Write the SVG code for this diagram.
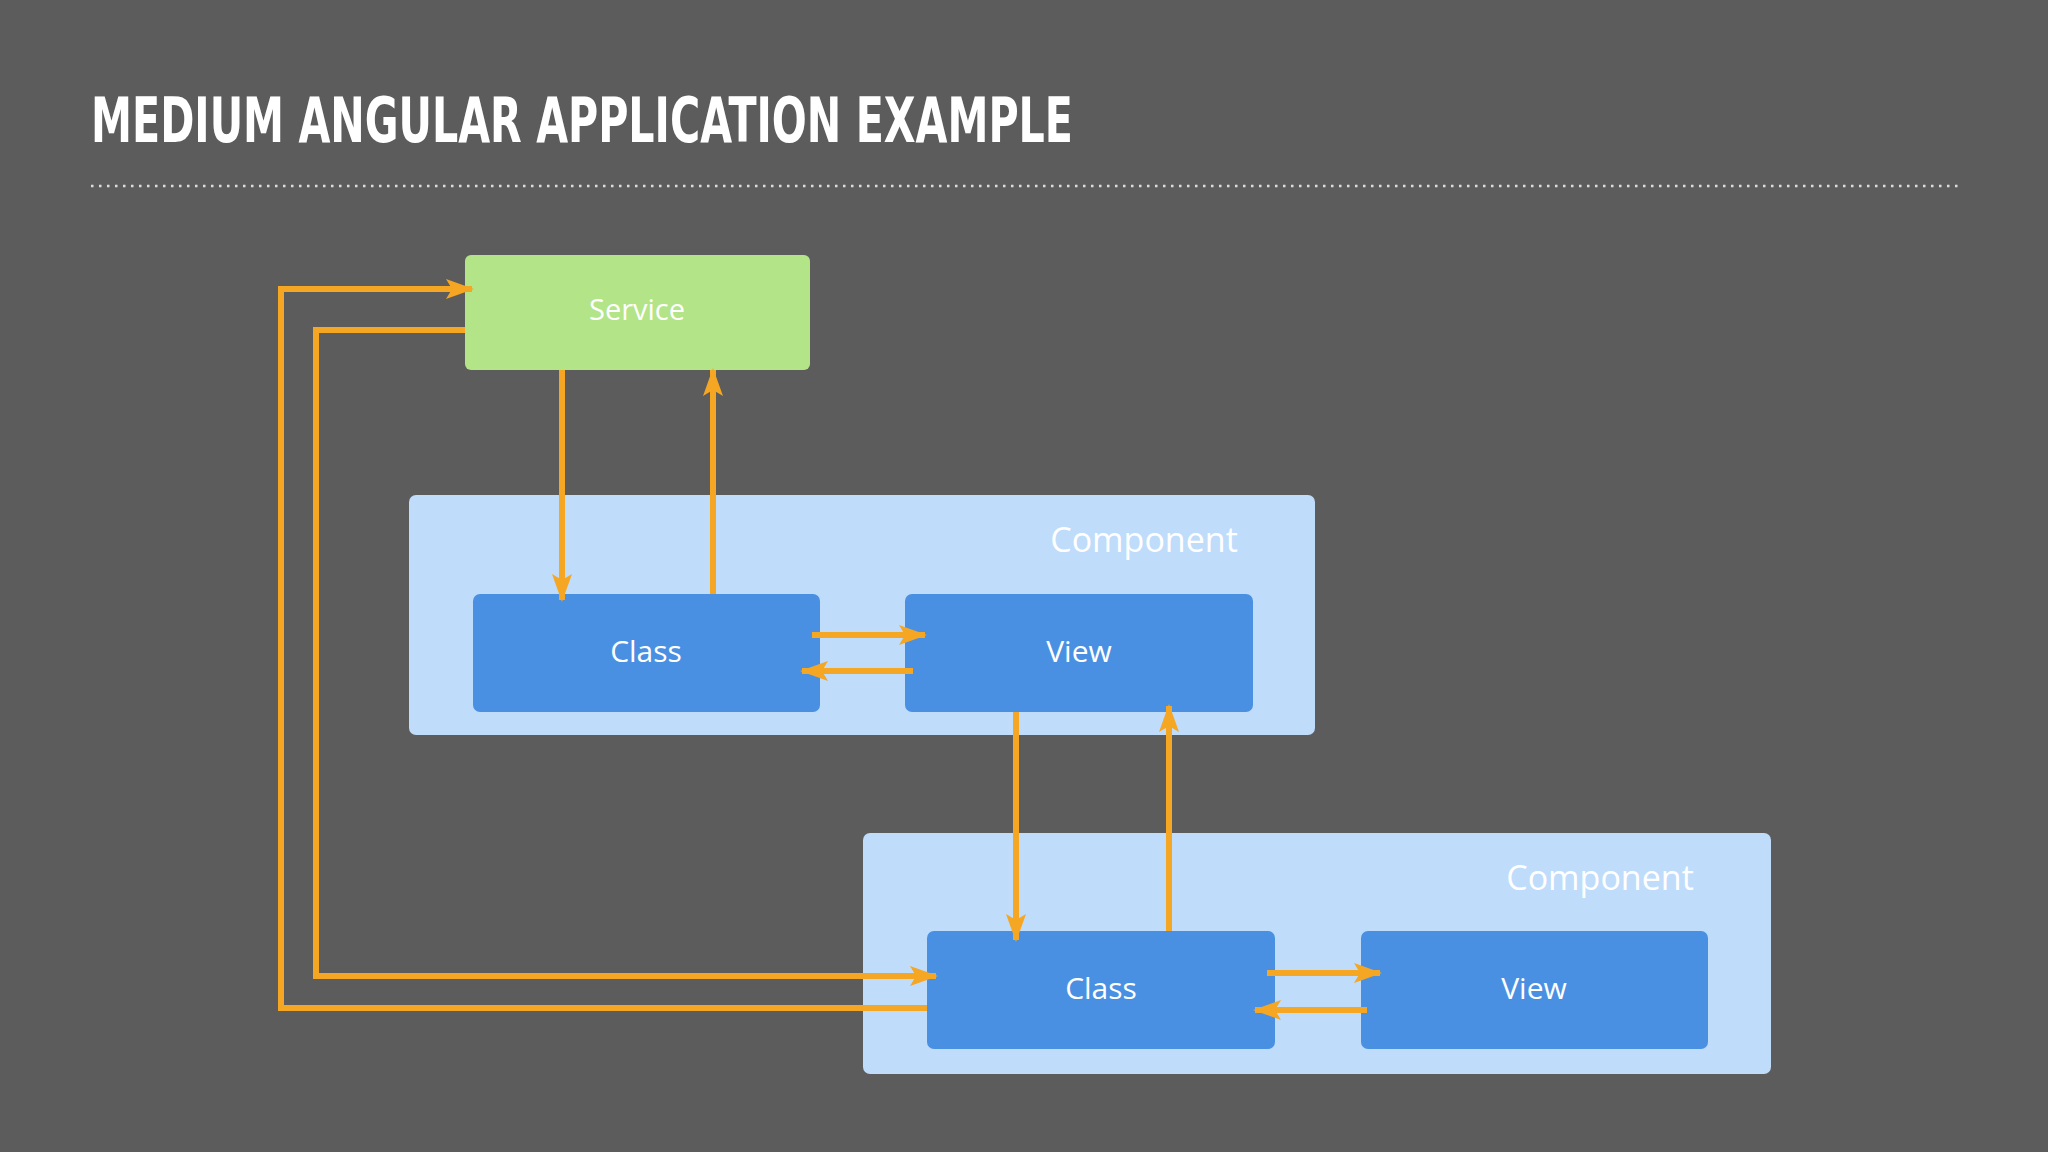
<svg xmlns="http://www.w3.org/2000/svg" width="2048" height="1152" viewBox="0 0 2048 1152">
<style>
.t{font-family:"Open Sans","Liberation Sans",sans-serif;fill:#fff;text-anchor:middle}
.c{stroke:#f5a623;stroke-width:6;fill:none}
.blue{fill:#4a90e2}
.comp{fill:#bfdcfb}
</style>
<defs>
<marker id="a" markerUnits="userSpaceOnUse" markerWidth="28" markerHeight="20" refX="26" refY="10" orient="auto">
<path d="M0,0 L28,10 L0,20 L6,10 Z" fill="#f5a623"/>
</marker>
</defs>
<rect width="2048" height="1152" fill="#5c5c5c"/>
<text x="91" y="142" font-family="DejaVu Sans Condensed,DejaVu Sans,sans-serif" font-weight="bold" font-size="62" fill="#fff" textLength="982" lengthAdjust="spacingAndGlyphs">MEDIUM ANGULAR APPLICATION EXAMPLE</text>
<line x1="91" y1="186" x2="1959" y2="186" stroke="#ddd" stroke-width="2.5" stroke-dasharray="2.5 5.5"/>
<g id="component1"><rect class="comp" x="409" y="495" width="906" height="240" rx="7"/><text class="t" x="1144" y="552" font-size="34">Component</text></g>
<g id="component2"><rect class="comp" x="863" y="833" width="908" height="241" rx="7"/><text class="t" x="1600" y="890" font-size="34">Component</text></g>
<g id="service"><rect x="465" y="255" width="345" height="115" rx="6" fill="#b3e487"/><text class="t" x="637" y="320" font-size="29">Service</text></g>
<g id="class1"><rect class="blue" x="473" y="594" width="347" height="118" rx="7"/><text class="t" x="646" y="662" font-size="30">Class</text></g>
<g id="view1"><rect class="blue" x="905" y="594" width="348" height="118" rx="7"/><text class="t" x="1079" y="662" font-size="30">View</text></g>
<g id="class2"><rect class="blue" x="927" y="931" width="348" height="118" rx="7"/><text class="t" x="1101" y="999" font-size="30">Class</text></g>
<g id="view2"><rect class="blue" x="1361" y="931" width="347" height="118" rx="7"/><text class="t" x="1534" y="999" font-size="30">View</text></g>
<g id="connectors">
<path class="c" d="M562,370 V600" marker-end="url(#a)"/>
<path class="c" d="M713,594 V370" marker-end="url(#a)"/>
<path class="c" d="M812,635 H925" marker-end="url(#a)"/>
<path class="c" d="M913,671 H802" marker-end="url(#a)"/>
<path class="c" d="M1016,712 V940" marker-end="url(#a)"/>
<path class="c" d="M1169,931 V706" marker-end="url(#a)"/>
<path class="c" d="M1267,973 H1380" marker-end="url(#a)"/>
<path class="c" d="M1367,1010 H1255" marker-end="url(#a)"/>
<path class="c" d="M927,1008 H281 V289 H472" marker-end="url(#a)"/>
<path class="c" d="M465,330 H316 V976 H936" marker-end="url(#a)"/>
</g>
</svg>
